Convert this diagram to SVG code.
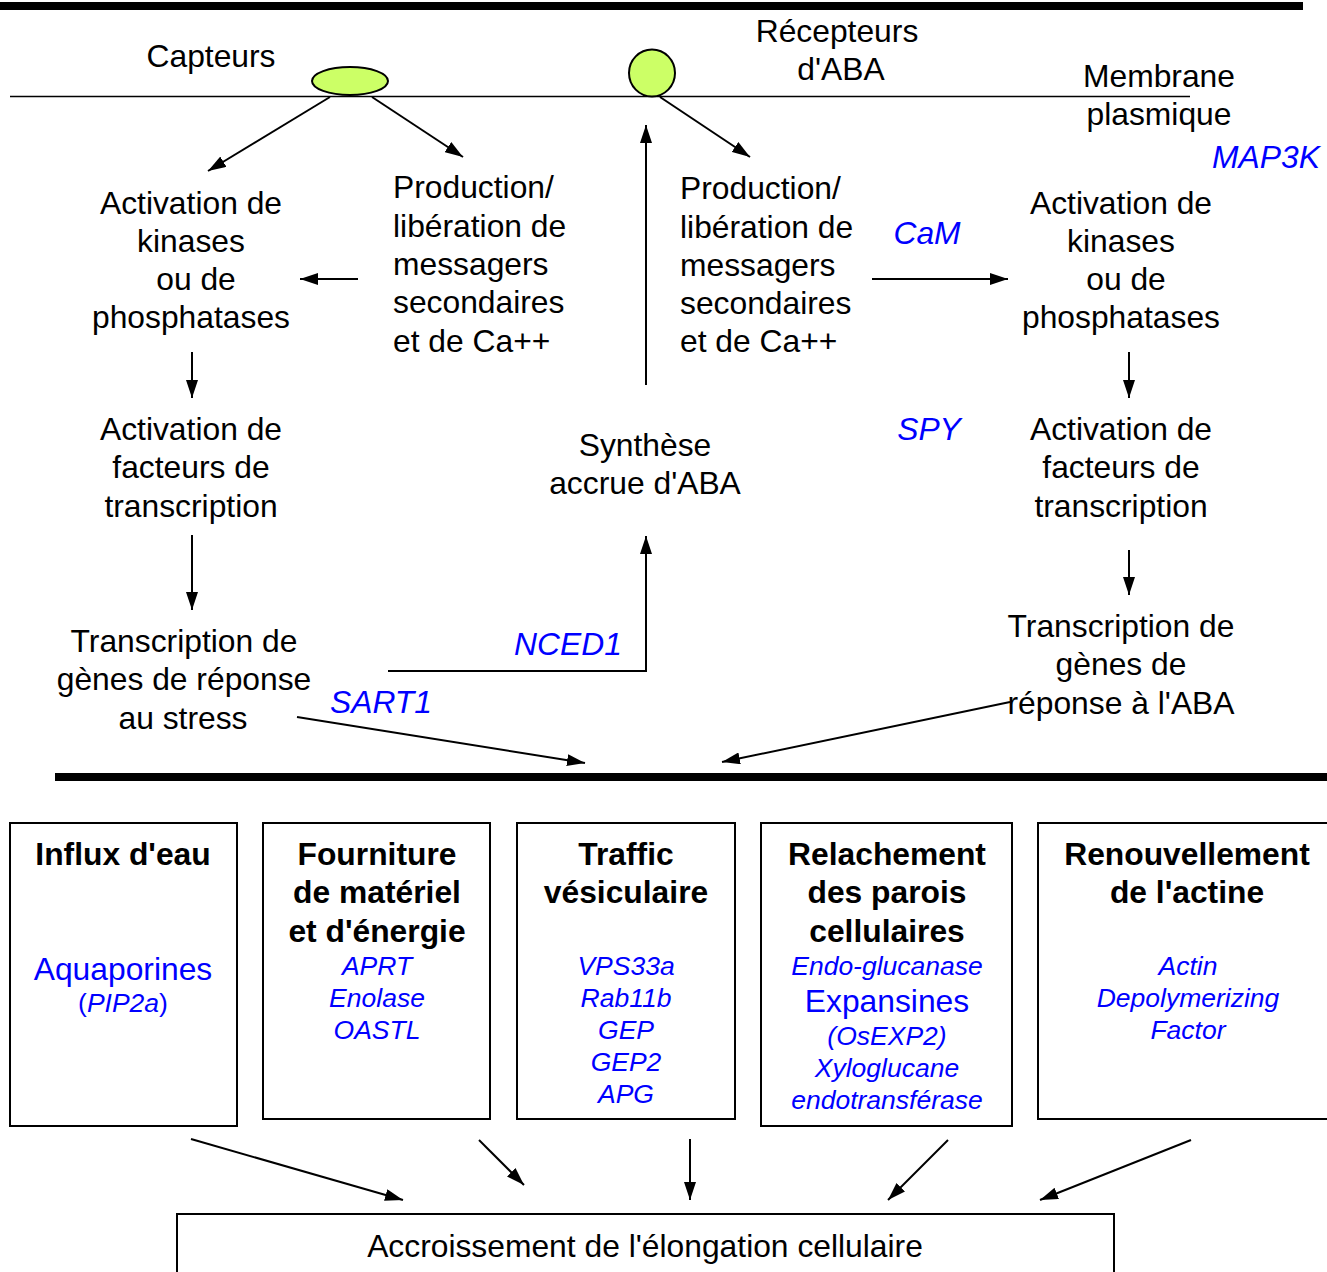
<svg xmlns="http://www.w3.org/2000/svg" width="1327" height="1272" viewBox="0 0 1327 1272">
<style>
text{font-family:"Liberation Sans",Arial,sans-serif;font-size:31.8px;fill:#000;text-anchor:middle}
.l{text-anchor:start}
.b{font-weight:bold}
.blue{fill:#0000ff;font-style:italic}
.s{font-size:26.5px}
.up{font-style:normal}
.box{fill:#fff;stroke:#000;stroke-width:2}
.ln{stroke:#000;stroke-width:2;fill:none}
.rec{fill:#ccff66;stroke:#000;stroke-width:2}
</style>
<defs>
<marker id="ah" markerUnits="userSpaceOnUse" markerWidth="18" markerHeight="12" refX="18" refY="6" orient="auto">
<path d="M0,0 L18,6 L0,12 z" fill="#000"/>
</marker>
</defs>
<rect x="0" y="0" width="1327" height="1272" fill="#fff"/>
<g id="bars">
<rect x="0" y="2" width="1303" height="8" fill="#000"/>
<line x1="10" y1="96.5" x2="1190" y2="96.5" stroke="#000" stroke-width="1.5"/>
<rect x="55" y="773" width="1272" height="8" fill="#000"/>
</g>
<g id="connectors">
<line class="ln" x1="330" y1="97" x2="208" y2="171" marker-end="url(#ah)"/>
<line class="ln" x1="372" y1="97" x2="463" y2="157" marker-end="url(#ah)"/>
<line class="ln" x1="660" y1="97" x2="750" y2="157" marker-end="url(#ah)"/>
<line class="ln" x1="646" y1="385" x2="646" y2="125" marker-end="url(#ah)"/>
<line class="ln" x1="358" y1="279" x2="300" y2="279" marker-end="url(#ah)"/>
<line class="ln" x1="872" y1="279" x2="1008" y2="279" marker-end="url(#ah)"/>
<line class="ln" x1="192" y1="352" x2="192" y2="398" marker-end="url(#ah)"/>
<line class="ln" x1="192" y1="535" x2="192" y2="610" marker-end="url(#ah)"/>
<line class="ln" x1="1129" y1="352" x2="1129" y2="398" marker-end="url(#ah)"/>
<line class="ln" x1="1129" y1="550" x2="1129" y2="595" marker-end="url(#ah)"/>
<polyline class="ln" points="388,671 646,671 646,536" marker-end="url(#ah)"/>
<line class="ln" x1="297" y1="717" x2="585" y2="763" marker-end="url(#ah)"/>
<line class="ln" x1="1010" y1="702" x2="722" y2="762" marker-end="url(#ah)"/>
<line class="ln" x1="191" y1="1139" x2="403" y2="1200" marker-end="url(#ah)"/>
<line class="ln" x1="479" y1="1140" x2="524" y2="1185" marker-end="url(#ah)"/>
<line class="ln" x1="690" y1="1139" x2="690" y2="1200" marker-end="url(#ah)"/>
<line class="ln" x1="948" y1="1140" x2="888" y2="1200" marker-end="url(#ah)"/>
<line class="ln" x1="1191" y1="1140" x2="1040" y2="1200" marker-end="url(#ah)"/>
</g>
<g id="capteurs">
<ellipse class="rec" cx="350" cy="81" rx="38" ry="14"/>
<text x="211" y="67">Capteurs</text>
</g>
<g id="recepteurs">
<ellipse class="rec" cx="652" cy="73" rx="23" ry="23.5"/>
<text x="837" y="42">Récepteurs</text>
<text x="841" y="80">d'ABA</text>
</g>
<g id="membrane">
<text x="1159" y="87">Membrane</text>
<text x="1159" y="125">plasmique</text>
</g>
<g id="labels-blue">
<text class="blue" x="1266" y="168">MAP3K</text>
<text class="blue" x="927" y="244">CaM</text>
<text class="blue" x="929" y="440">SPY</text>
<text class="blue" x="568" y="655">NCED1</text>
<text class="blue" x="381" y="713">SART1</text>
</g>
<g id="kinases-left">
<text x="191" y="214">Activation de</text>
<text x="191" y="252">kinases</text>
<text x="196" y="290">ou de</text>
<text x="191" y="328">phosphatases</text>
</g>
<g id="facteurs-left">
<text x="191" y="440">Activation de</text>
<text x="191" y="478">facteurs de</text>
<text x="191" y="517">transcription</text>
</g>
<g id="stress">
<text x="184" y="652">Transcription de</text>
<text x="184" y="690">gènes de réponse</text>
<text x="183" y="729">au stress</text>
</g>
<g id="production-left">
<text class="l" x="393" y="198">Production/</text>
<text class="l" x="393" y="237">libération de</text>
<text class="l" x="393" y="275">messagers</text>
<text class="l" x="393" y="313">secondaires</text>
<text class="l" x="393" y="352">et de Ca++</text>
</g>
<g id="production-right">
<text class="l" x="680" y="199">Production/</text>
<text class="l" x="680" y="238">libération de</text>
<text class="l" x="680" y="276">messagers</text>
<text class="l" x="680" y="314">secondaires</text>
<text class="l" x="680" y="352">et de Ca++</text>
</g>
<g id="synthese">
<text x="645" y="456">Synthèse</text>
<text x="645" y="494">accrue d'ABA</text>
</g>
<g id="kinases-right">
<text x="1121" y="214">Activation de</text>
<text x="1121" y="252">kinases</text>
<text x="1126" y="290">ou de</text>
<text x="1121" y="328">phosphatases</text>
</g>
<g id="facteurs-right">
<text x="1121" y="440">Activation de</text>
<text x="1121" y="478">facteurs de</text>
<text x="1121" y="517">transcription</text>
</g>
<g id="aba-genes">
<text x="1121" y="637">Transcription de</text>
<text x="1121" y="675">gènes de</text>
<text x="1121" y="714">réponse à l'ABA</text>
</g>
<g id="box-eau">
<rect class="box" x="10" y="823" width="227" height="303"/>
<text class="b" x="123" y="865">Influx d'eau</text>
<text class="blue up" x="123" y="980">Aquaporines</text>
<text class="blue s" x="123" y="1012"><tspan class="up">(</tspan>PIP2a<tspan class="up">)</tspan></text>
</g>
<g id="box-materiel">
<rect class="box" x="263" y="823" width="227" height="296"/>
<text class="b" x="377" y="865">Fourniture</text>
<text class="b" x="377" y="903">de matériel</text>
<text class="b" x="377" y="942">et d'énergie</text>
<text class="blue s" x="377" y="975">APRT</text>
<text class="blue s" x="377" y="1007">Enolase</text>
<text class="blue s" x="377" y="1039">OASTL</text>
</g>
<g id="box-traffic">
<rect class="box" x="517" y="823" width="218" height="296"/>
<text class="b" x="626" y="865">Traffic</text>
<text class="b" x="626" y="903">vésiculaire</text>
<text class="blue s" x="626" y="975">VPS33a</text>
<text class="blue s" x="626" y="1007">Rab11b</text>
<text class="blue s" x="626" y="1039">GEP</text>
<text class="blue s" x="626" y="1071">GEP2</text>
<text class="blue s" x="626" y="1103">APG</text>
</g>
<g id="box-parois">
<rect class="box" x="761" y="823" width="251" height="303"/>
<text class="b" x="887" y="865">Relachement</text>
<text class="b" x="887" y="903">des parois</text>
<text class="b" x="887" y="942">cellulaires</text>
<text class="blue s" x="887" y="975">Endo-glucanase</text>
<text class="blue up" x="887" y="1012">Expansines</text>
<text class="blue s" x="887" y="1045">(OsEXP2)</text>
<text class="blue s" x="887" y="1077">Xyloglucane</text>
<text class="blue s" x="887" y="1109">endotransférase</text>
</g>
<g id="box-actine">
<rect class="box" x="1038" y="823" width="300" height="296"/>
<text class="b" x="1187" y="865">Renouvellement</text>
<text class="b" x="1187" y="903">de l'actine</text>
<text class="blue s" x="1188" y="975">Actin</text>
<text class="blue s" x="1188" y="1007">Depolymerizing</text>
<text class="blue s" x="1188" y="1039">Factor</text>
</g>
<g id="box-elongation">
<rect class="box" x="177" y="1214" width="937" height="70"/>
<text x="645" y="1257">Accroissement de l'élongation cellulaire</text>
</g>
</svg>
